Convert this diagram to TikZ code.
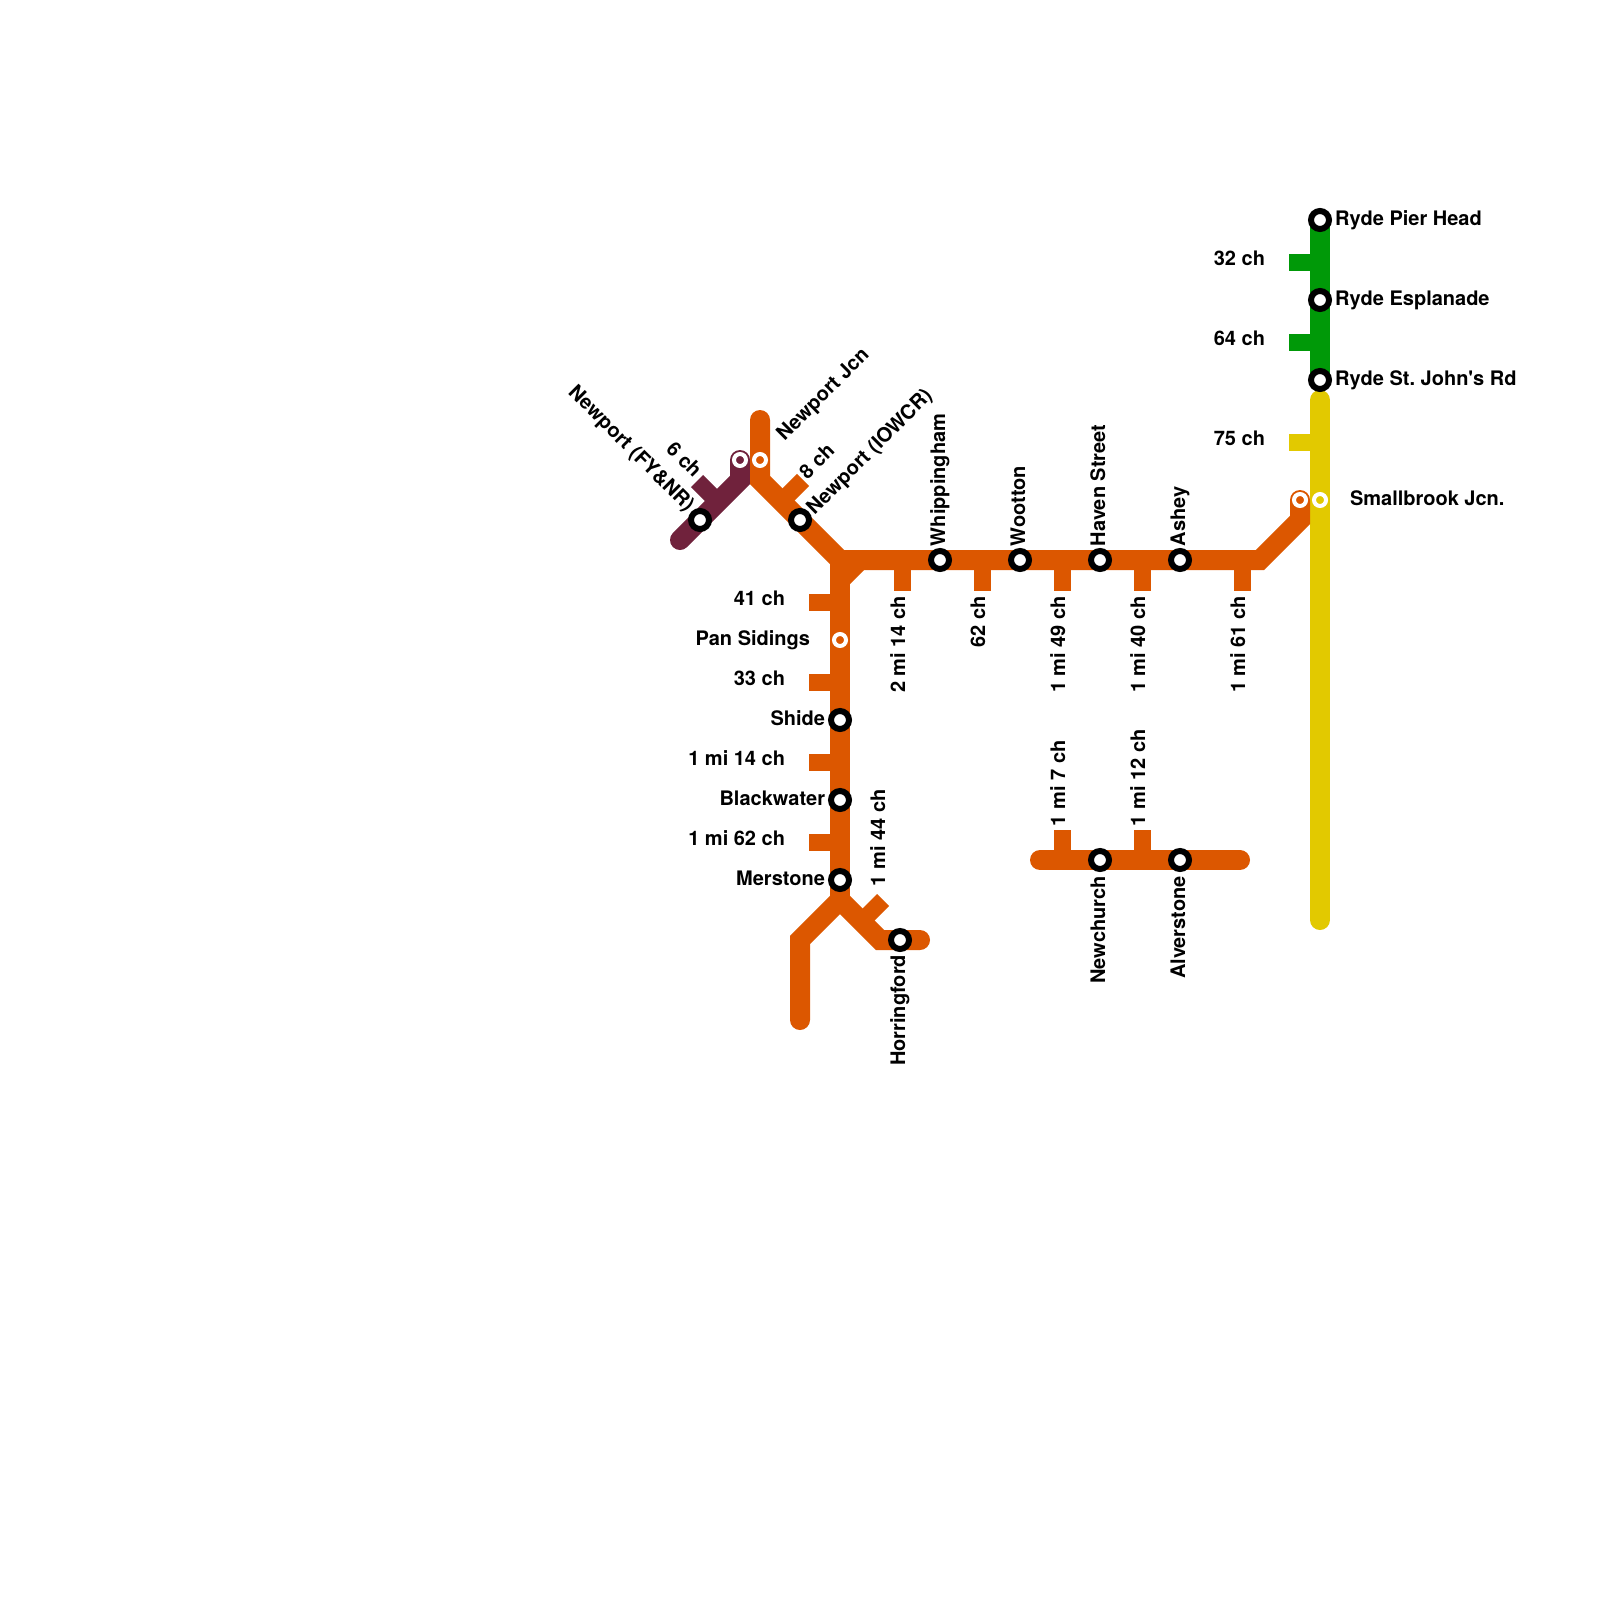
\documentclass[tikz,border=0pt]{standalone}
\usepackage{fontspec}
\newfontfamily\labfont{TeX Gyre Heros}
\definecolor{lorange}{HTML}{DC5700}
\definecolor{lpurple}{HTML}{70223C}
\definecolor{lgreen}{HTML}{009908}
\definecolor{lyellow}{HTML}{E2C900}
\tikzset{
  trk/.style={line width=10pt,line join=miter,line cap=butt},
  rtrk/.style={line width=10pt,line join=round,line cap=round},
  tick/.style={line width=8.5pt,line cap=butt},
  stn/.style={circle,draw=black,fill=white,line width=3pt,minimum size=9pt,inner sep=0pt,outer sep=0pt},
  jct/.style={circle,draw=white,line width=2pt,minimum size=6pt,inner sep=0pt,outer sep=0pt},
  lab/.style={font=\labfont\bfseries\fontsize{10}{11}\selectfont\frenchspacing,text=black,inner sep=0pt,outer sep=0pt,text height=7pt,text depth=2pt},
  le/.style={lab,anchor=east},
  lw/.style={lab,anchor=west},
  vw/.style={lab,anchor=west,rotate=90},
  ve/.style={lab,anchor=east,rotate=90},
}
\begin{document}
\begin{tikzpicture}[x=0.5pt,y=-0.5pt]
\useasboundingbox (0,0) rectangle (1600,1600);
% coordinates
\coordinate (pe) at (680,540);
\coordinate (pb) at (740,480);
\coordinate (pj) at (740,460);
\coordinate (pt1) at (718,502);
\coordinate (pt2) at (697,481);
\coordinate (nj) at (760,420);
\coordinate (nb) at (760,480);
\coordinate (jm) at (840,560);
\coordinate (ot1) at (781.5,501.5);
\coordinate (ot2) at (803,480);
\coordinate (je) at (1260,560);
\coordinate (su) at (1300,520);
\coordinate (sj) at (1300,500);
\coordinate (jw1) at (860,560);
\coordinate (jw2) at (840,580);
\coordinate (jb) at (840,900);
\coordinate (bl) at (800,940);
\coordinate (ble) at (800,1020);
\coordinate (br) at (880,940);
\coordinate (bre) at (920,940);
\coordinate (bt1) at (861.5,921.5);
\coordinate (bt2) at (883,900);
\coordinate (s1) at (1040,860);
\coordinate (s2) at (1240,860);
\coordinate (ra) at (1320,220);
\coordinate (rb) at (1320,380);
\coordinate (ya) at (1320,400);
\coordinate (yb) at (1320,920);
% tracks
\draw[trk,lyellow,line cap=round] (ya) -- (yb);
\draw[tick,lyellow] (1320,442) -- (1289,442);
\draw[trk,lgreen] (ra) -- (rb);
\draw[tick,lgreen] (1320,262) -- (1289,262);
\draw[tick,lgreen] (1320,342) -- (1289,342);
\draw[tick,lpurple] (pt1) -- (pt2);
\draw[rtrk,lpurple,line join=miter] (pe) -- (pb) -- (pj);
\draw[tick,lorange] (ot1) -- (ot2);
\draw[tick,lorange] (bt1) -- (bt2);
\foreach \x in {902,982,1062,1142,1242} \draw[tick,lorange] (\x,560) -- (\x,591);
\foreach \y in {602,682,762,842} \draw[tick,lorange] (840,\y) -- (809,\y);
\foreach \x in {1062,1142} \draw[tick,lorange] (\x,860) -- (\x,830);
\draw[rtrk,lorange,line join=miter] (nj) -- (nb) -- (jm) -- (je) -- (su) -- (sj);
\draw[trk,lorange] (jm) -- (jb);
\draw[trk,lorange] (jw1) -- (jw2);
\draw[rtrk,lorange,line join=miter] (jb) -- (bl) -- (ble);
\draw[rtrk,lorange,line join=miter] (jb) -- (br) -- (bre);
\draw[rtrk,lorange] (s1) -- (s2);
% junction markers
\node[jct,fill=lpurple] (mpj) at (pj) {};
\node[jct,fill=lorange] (mnj) at (760,460) {};
\node[jct,fill=lorange] (mpan) at (840,640) {};
\node[jct,fill=lorange] (msb1) at (sj) {};
\node[jct,fill=lyellow] (msb2) at (1320,500) {};
% stations
\node[stn] (newfy) at (700,520) {};
\node[stn] (newio) at (800,520) {};
\node[stn] (whip) at (940,560) {};
\node[stn] (woot) at (1020,560) {};
\node[stn] (have) at (1100,560) {};
\node[stn] (ashe) at (1180,560) {};
\node[stn] (shid) at (840,720) {};
\node[stn] (blac) at (840,800) {};
\node[stn] (mers) at (840,880) {};
\node[stn] (horr) at (900,940) {};
\node[stn] (newc) at (1100,860) {};
\node[stn] (alve) at (1180,860) {};
\node[stn] (rph) at (1320,220) {};
\node[stn] (res) at (1320,300) {};
\node[stn] (rsj) at (1320,380) {};
% labels
\node[lw] (l1) at (1335,220) {Ryde Pier Head};
\node[lw] (l2) at (1335,300) {Ryde Esplanade};
\node[lw] (l3) at (1335,380) {Ryde St. John's Rd};
\node[lw] (l4) at (1350,500) {Smallbrook Jcn.};
\node[le] (l5) at (1265,260) {32 ch};
\node[le] (l6) at (1265,340) {64 ch};
\node[le] (l7) at (1265,440) {75 ch};
\node[le] (l8) at (785,600) {41 ch};
\node[le] (l9) at (810,640) {Pan Sidings};
\node[le] (l10) at (785,680) {33 ch};
\node[le] (l11) at (825,720) {Shide};
\node[le] (l12) at (785,760) {1 mi 14 ch};
\node[le] (l13) at (825,800) {Blackwater};
\node[le] (l14) at (785,840) {1 mi 62 ch};
\node[le] (l15) at (825,880) {Merstone};
\node[vw] (l16) at (940,546) {Whippingham};
\node[vw] (l17) at (1020,546) {Wootton};
\node[vw] (l18) at (1100,546) {Haven Street};
\node[vw] (l19) at (1180,546) {Ashey};
\node[ve] (l20) at (900,596) {2 mi 14 ch};
\node[ve] (l21) at (980,596) {62 ch};
\node[ve] (l22) at (1060,596) {1 mi 49 ch};
\node[ve] (l23) at (1140,596) {1 mi 40 ch};
\node[ve] (l24) at (1240,596) {1 mi 61 ch};
\node[vw] (l25) at (880,886) {1 mi 44 ch};
\node[vw] (l26) at (1060,826) {1 mi 7 ch};
\node[vw] (l27) at (1140,826) {1 mi 12 ch};
\node[ve] (l28) at (1100,876) {Newchurch};
\node[ve] (l29) at (1180,876) {Alverstone};
\node[ve] (l30) at (900,955) {Horringford};
\node[lab,anchor=west,rotate=45] (l31) at (781,438) {Newport Jcn};
\node[lab,anchor=west,rotate=45] (l32) at (804,477) {8 ch};
\node[lab,anchor=west,rotate=45] (l33) at (811,512) {Newport (IOWCR)};
\node[lab,anchor=east,rotate=-45] (l34) at (697,475) {6 ch};
\node[lab,anchor=east,rotate=-45] (l35) at (690,509) {Newport (FY\&NR)};
\end{tikzpicture}
\end{document}
